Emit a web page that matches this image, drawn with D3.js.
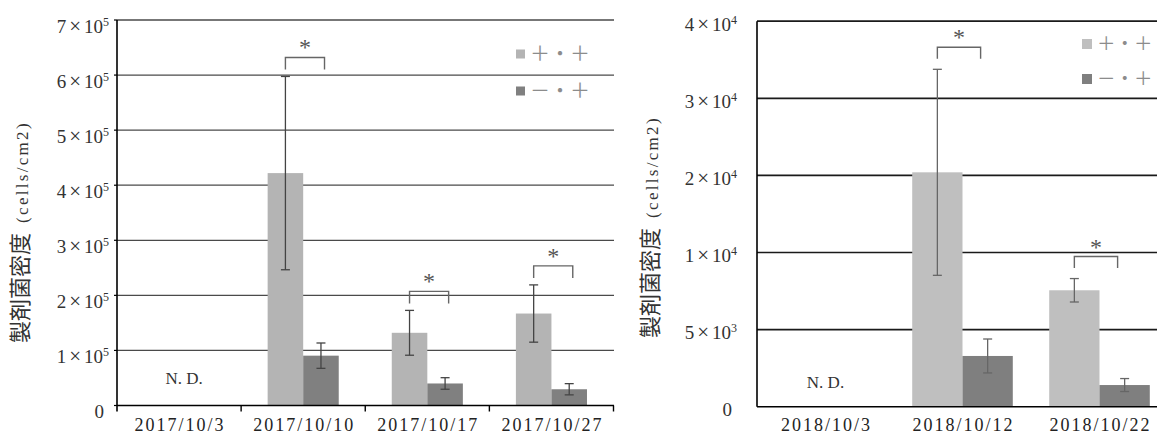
<!DOCTYPE html>
<html>
<head>
<meta charset="utf-8">
<script src="https://cdn.jsdelivr.net/npm/d3@7"></script>
<style>
body { margin: 0; background: #fff; }
</style>
</head>
<body>
<script>
// 2017 trial
const dates2017 = ["2017/10/3", "2017/10/10", "2017/10/17", "2017/10/27"];
const pp2017 = [null, 422000, 132000, 167000];
const ppSd2017 = [null, 175500, 40700, 52000];
const mp2017 = [null, 90500, 40000, 29500];
const mpSd2017 = [null, 23000, 10500, 10200];
const sig2017 = [false, true, true, true];
const ticks2017 = [0, 100000, 200000, 300000, 400000, 500000, 600000, 700000];
const tickMant2017 = ["0", "1", "2", "3", "4", "5", "6", "7"];
const tickExp2017 = [null, "5", "5", "5", "5", "5", "5", "5"];

// 2018 trial (tick labels as printed on the original axis)
const dates2018 = ["2018/10/3", "2018/10/12", "2018/10/22"];
const pp2018 = [null, 15200, 7550];
const ppSd2018 = [null, 6680, 760];
const mp2018 = [null, 3290, 1405];
const mpSd2018 = [null, 1100, 420];
const sig2018 = [false, true, true];
const ticks2018 = [0, 5000, 10000, 15000, 20000, 25000];
const tickMant2018 = ["0", "5", "1", "2", "3", "4"];
const tickExp2018 = [null, "3", "4", "4", "4", "4"];

const legendLabels = ["＋・＋", "－・＋"];
const ndLabel = "N. D.";

const serif = "'Liberation Serif', 'DejaVu Serif', serif";
const cjk = "'Noto Sans CJK JP', sans-serif";

const svg = d3.select("body").append("svg")
    .attr("width", 1157)
    .attr("height", 436)
    .style("background", "#fff");

function drawChart(o) {
    const g = svg.append("g");

    const x = d3.scaleBand()
        .domain(o.dates)
        .range([o.left, o.right]);
    const sub = d3.scaleBand()
        .domain(["pp", "mp"])
        .range([0, x.bandwidth()])
        .paddingOuter(o.subPad);
    const y = d3.scaleLinear()
        .domain([0, d3.max(o.ticks)])
        .range([o.bottom, o.top]);

    // gridlines
    g.selectAll(".grid")
        .data(o.ticks.filter(t => t > 0))
        .join("line")
        .attr("x1", o.left).attr("x2", o.gridRight)
        .attr("y1", d => y(d)).attr("y2", d => y(d))
        .attr("stroke", o.gridColor)
        .attr("stroke-width", o.gridWidth);

    const rows = o.dates.map((d, i) => ({
        date: d,
        pp: o.pp[i], ppSd: o.ppSd[i],
        mp: o.mp[i], mpSd: o.mpSd[i],
        sig: o.sig[i]
    }));
    const bars = [];
    rows.forEach(r => {
        if (r.pp != null) bars.push({date: r.date, key: "pp", v: r.pp, sd: r.ppSd});
        if (r.mp != null) bars.push({date: r.date, key: "mp", v: r.mp, sd: r.mpSd});
    });

    g.selectAll(".bar")
        .data(bars)
        .join("rect")
        .attr("x", d => x(d.date) + sub(d.key))
        .attr("y", d => y(d.v))
        .attr("width", sub.bandwidth())
        .attr("height", d => y(0) - y(d.v))
        .attr("fill", d => d.key == "pp" ? o.lightColor : o.darkColor);

    // error bars
    const cx = d => x(d.date) + sub(d.key) + sub.bandwidth() / 2;
    const eb = g.selectAll(".err")
        .data(bars)
        .join("g")
        .attr("stroke", o.errColor)
        .attr("stroke-width", 1.3);
    eb.append("line")
        .attr("x1", cx).attr("x2", cx)
        .attr("y1", d => y(d.v + d.sd))
        .attr("y2", d => y(d.v - d.sd));
    [1, -1].forEach(s => {
        eb.append("line")
            .attr("x1", d => cx(d) - 4.5)
            .attr("x2", d => cx(d) + 4.5)
            .attr("y1", d => y(d.v + s * d.sd))
            .attr("y2", d => y(d.v + s * d.sd));
    });

    // significance brackets
    rows.filter(r => r.sig).forEach(r => {
        const top = y(Math.max(r.pp + r.ppSd, r.mp + r.mpSd)) - o.brGap;
        const x1 = x(r.date) + sub("pp") + sub.bandwidth() / 2;
        const x2 = x1 + sub.bandwidth() * o.brWidth;
        g.append("path")
            .attr("d", `M${x1},${top + o.brLeg}V${top}H${x2}V${top + o.brLeg}`)
            .attr("fill", "none")
            .attr("stroke", "#666")
            .attr("stroke-width", 1.4);
        g.append("text")
            .attr("x", (x1 + x2) / 2)
            .attr("y", top - 2)
            .attr("text-anchor", "middle")
            .attr("font-family", serif)
            .attr("font-size", 24)
            .attr("fill", "#555")
            .text("*");
    });

    // N.D.
    rows.filter(r => r.pp == null).forEach(r => {
        g.append("text")
            .attr("x", x(r.date) + x.bandwidth() / 2 + o.ndDx)
            .attr("y", o.ndY)
            .attr("text-anchor", "middle")
            .attr("font-family", serif)
            .attr("font-size", 17)
            .attr("fill", "#333")
            .text(ndLabel);
    });

    // axes
    g.append("line")
        .attr("x1", o.left).attr("x2", o.gridRight)
        .attr("y1", y(0)).attr("y2", y(0))
        .attr("stroke", "#000").attr("stroke-width", 1.6);
    g.append("line")
        .attr("x1", o.left).attr("x2", o.left)
        .attr("y1", y(d3.max(o.ticks))).attr("y2", y(0) + (o.xTicks ? 6 : 0))
        .attr("stroke", "#000").attr("stroke-width", 1.6);

    if (o.xTicks) {
        g.selectAll(".xtick")
            .data(o.dates.slice(1).concat(["end"]))
            .join("line")
            .attr("x1", d => d == "end" ? o.right : x(d))
            .attr("x2", d => d == "end" ? o.right : x(d))
            .attr("y1", y(0)).attr("y2", y(0) + 6)
            .attr("stroke", "#000").attr("stroke-width", 1.4);
        g.selectAll(".ytick")
            .data(o.ticks)
            .join("line")
            .attr("x1", o.left - 3).attr("x2", o.left)
            .attr("y1", d => y(d)).attr("y2", d => y(d))
            .attr("stroke", "#000").attr("stroke-width", 1.2);
    }

    // date labels
    g.selectAll(".xlab")
        .data(o.dates)
        .join("text")
        .attr("x", d => x(d) + x.bandwidth() / 2 + 1)
        .attr("y", 431)
        .attr("text-anchor", "middle")
        .attr("font-family", serif)
        .attr("font-size", 18)
        .attr("letter-spacing", 2)
        .attr("fill", "#222")
        .text(d => d);

    // y tick labels
    const yl = g.selectAll(".ylab")
        .data(o.ticks)
        .join("text")
        .attr("x", (d, i) => i == 0 ? o.labelX + o.zeroDx : o.labelX)
        .attr("y", d => y(d) + o.labelDy)
        .attr("dy", "0.35em")
        .attr("text-anchor", "end")
        .attr("font-family", serif)
        .attr("font-size", 19)
        .attr("fill", "#333");
    yl.each(function(d, i) {
        const t = d3.select(this);
        t.append("tspan").text(o.mant[i]);
        if (o.exp[i]) {
            t.append("tspan").attr("dx", 3).attr("font-size", 21).text("×");
            t.append("tspan").attr("dx", 3).text("10");
            t.append("tspan").attr("font-size", 12).attr("dy", -7).text(o.exp[i]);
        }
    });

    // y axis title
    const title = g.append("text")
        .attr("transform", `translate(${o.titleX},${o.titleY}) rotate(-90)`)
        .attr("text-anchor", "middle")
        .attr("dy", "0.35em")
        .attr("fill", "#333");
    title.append("tspan")
        .attr("font-family", cjk)
        .attr("font-size", 22)
        .text("製剤菌密度");
    title.append("tspan")
        .attr("dx", 10)
        .attr("font-family", serif)
        .attr("font-size", 17)
        .attr("letter-spacing", 2.3)
        .text("(cells/cm2)");

    // legend
    const lg = g.selectAll(".leg")
        .data(legendLabels)
        .join("g")
        .attr("transform", (d, i) => `translate(${o.legX},${o.legY[i]})`);
    lg.append("rect")
        .attr("x", 0).attr("y", -o.legSq / 2)
        .attr("width", o.legSq).attr("height", o.legSq)
        .attr("fill", (d, i) => i == 0 ? o.lightColor : o.darkColor);
    lg.append("text")
        .attr("x", o.legSq + 5)
        .attr("dy", "0.35em")
        .attr("font-family", cjk)
        .attr("font-size", o.legFont)
        .attr("fill", "#8c8c8c")
        .text(d => d);
}

drawChart({
    dates: dates2017, pp: pp2017, ppSd: ppSd2017, mp: mp2017, mpSd: mpSd2017, sig: sig2017,
    ticks: ticks2017, mant: tickMant2017, exp: tickExp2017,
    left: 117, right: 613.5, gridRight: 614, top: 20, bottom: 405.5,
    subPad: 0.746, lightColor: "#b4b4b4", darkColor: "#808080",
    gridColor: "#4a4a4a", gridWidth: 1.3, errColor: "#444",
    brGap: 19, brLeg: 12, brWidth: 1.1,
    ndDx: 5, ndY: 384, xTicks: true,
    labelX: 109, zeroDx: -5, labelDy: 6,
    titleX: 22, titleY: 232,
    legX: 516, legY: [54, 91], legSq: 9, legFont: 20
});

drawChart({
    dates: dates2018, pp: pp2018, ppSd: ppSd2018, mp: mp2018, mpSd: mpSd2018, sig: sig2018,
    ticks: ticks2018, mant: tickMant2018, exp: tickExp2018,
    left: 757, right: 1168, gridRight: 1157, top: 21.2, bottom: 406.7,
    subPad: 0.362, lightColor: "#bfbfbf", darkColor: "#7f7f7f",
    gridColor: "#1a1a1a", gridWidth: 1.7, errColor: "#666",
    brGap: 22, brLeg: 11.5, brWidth: 0.86,
    ndDx: 0, ndY: 388, xTicks: false,
    labelX: 737, zeroDx: -5, labelDy: 3,
    titleX: 652, titleY: 227,
    legX: 1082, legY: [44, 79], legSq: 10, legFont: 18.5
});
</script>
</body>
</html>
